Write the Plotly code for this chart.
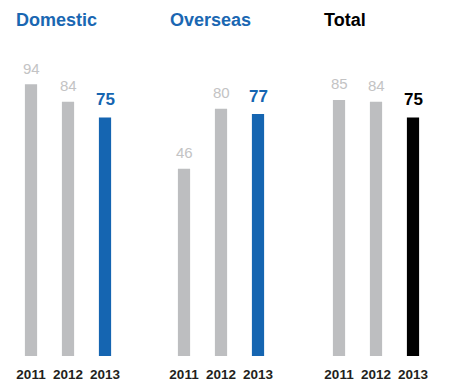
import plotly.graph_objects as go

years = ["2011", "2012", "2013"]
groups = ["Domestic", "Overseas", "Total"]
domestic = [94, 84, 75]
overseas = [46, 80, 77]
total = [85, 84, 75]
series = [domestic, overseas, total]

W, H = 449, 383
BASE = -60.45
TOP = 141.8
GRAY = "#bdbec0"
GRAY_TXT = "#c3c3c4"
BLUE = "#1565b1"
BLACK = "#000000"
accent = [BLUE, BLUE, BLACK]
title_colors = ["#1a67b2", "#1a67b2", "#000000"]

# pixel domains (left, right) for each group's x axis
dom_px = [(12.5, 123.5), (165.5, 276.5), (320.5, 431.5)]
title_x = [15, 169, 323]

FONT = "Liberation Sans, Arial, Helvetica, sans-serif"

fig = go.Figure()
annotations = []
for i, (g, vals) in enumerate(zip(groups, series)):
    xa = "x" if i == 0 else f"x{i+1}"
    colors = [GRAY, GRAY, accent[i]]
    fig.add_trace(go.Bar(
        x=years, y=[v - BASE for v in vals], base=BASE,
        marker=dict(color=colors, line=dict(width=0)),
        width=0.33, xaxis=xa, yaxis="y", hoverinfo="skip", showlegend=False,
    ))
    for j, v in enumerate(vals):
        last = j == len(vals) - 1
        annotations.append(dict(
            x=j, y=v, xref=xa, yref="y", text=str(v), showarrow=False,
            yanchor="middle", xanchor="center",
            yshift=18 if last else 16,
            font=dict(family=FONT, size=17 if last else 15,
                      color=accent[i] if last else GRAY_TXT,
                      weight="bold" if last else "normal"),
        ))
    annotations.append(dict(
        x=title_x[i] / W, y=1 - 20 / 356, xref="paper", yref="paper",
        text=f"<b>{g}</b>", showarrow=False, xanchor="left", yanchor="middle",
        xshift=-1,
        font=dict(family=FONT, size=18, color=title_colors[i]),
    ))

layout = dict(
    width=W, height=H,
    margin=dict(l=0, r=0, t=0, b=27, pad=0),
    paper_bgcolor="white", plot_bgcolor="white",
    yaxis=dict(range=[BASE, TOP], visible=False, fixedrange=True),
    annotations=annotations,
    showlegend=False,
)
for i, (a, b) in enumerate(dom_px):
    key = "xaxis" if i == 0 else f"xaxis{i+1}"
    layout[key] = dict(
        domain=[a / W, b / W], anchor="y", type="category",
        categoryorder="array", categoryarray=years,
        range=[-0.5, len(years) - 0.5], autorange=False,
        showgrid=False, zeroline=False, showline=False, ticks="",
        ticklabelstandoff=8,
        tickfont=dict(family=FONT, size=13.5, color="#231f20", weight="bold"),
        fixedrange=True,
    )
fig.update_layout(**layout)
fig.write_html("out.html", config={"displayModeBar": False})
